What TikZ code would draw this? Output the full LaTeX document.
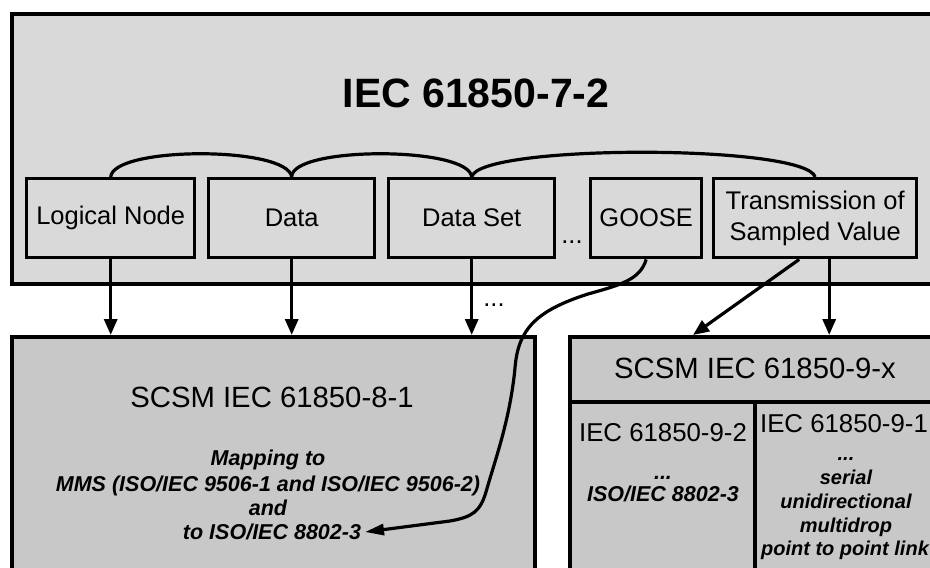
\documentclass[tikz,border=0pt]{standalone}
\usepackage{fontspec}
\setmainfont{Liberation Sans}
\usetikzlibrary{arrows.meta}
\definecolor{topgray}{RGB}{217,217,217}
\definecolor{botgray}{RGB}{200,200,200}
\tikzset{
  frame/.style={draw=black, line width=3.8pt, inner sep=0pt, anchor=north west},
  smallbox/.style={draw=black, line width=3.4pt, fill=topgray, inner sep=0pt, anchor=north west, minimum height=79pt, align=center, font=\fontsize{25.5}{31}\selectfont},
  arc/.style={line width=3.2pt},
  arr/.style={line width=3.2pt, -{Triangle[length=16pt,width=13pt]}},
  lbl/.style={inner sep=0pt, anchor=base},
  big/.style={lbl, font=\fontsize{29.3}{34}\selectfont},
  mid/.style={lbl, font=\fontsize{25.8}{30}\selectfont},
  bi/.style={lbl, font=\fontsize{21.5}{25}\selectfont\bfseries\itshape},
  bis/.style={lbl, font=\fontsize{20}{24}\selectfont\bfseries\itshape},
}
\begin{document}
\begin{tikzpicture}[x=1pt, y=-1pt]
\useasboundingbox (0,0) rectangle (930,568);
\fill[white] (0,0) rectangle (930,568);
\clip (0,0) rectangle (930,568);

% top box
\node[frame, fill=topgray, minimum width=932pt, minimum height=270pt] (top) at (10,12) {};
\node[lbl, font=\fontsize{41}{48}\selectfont\bfseries] (title) at (476,107) {IEC 61850-7-2};

% small boxes
\node[smallbox, minimum width=168pt] (ln)   at (25,177)  {Logical Node};
\node[smallbox, minimum width=166pt] (data) at (207,177) {Data};
\node[smallbox, minimum width=166pt] (ds)   at (387,177) {Data Set};
\node[smallbox, minimum width=111pt] (goose) at (589,177) {GOOSE};
\node[smallbox, minimum width=203pt] (tsv)  at (712,177) {Transmission of\\Sampled Value};
\node[lbl, font=\fontsize{25.5}{31}\selectfont] (dots1) at (572,243) {...};

% arcs
\draw[arc] (ln.north) .. controls (113,146) and (288,146) .. (data.north);
\draw[arc] (data.north) .. controls (291,146) and (469,146) .. (ds.north);
\draw[arc] (ds.north) .. controls (478,144) and (805,144) .. (tsv.north);

% bottom boxes
\node[frame, fill=botgray, minimum width=523pt, minimum height=300pt] (b81) at (10,335) {};
\node[frame, fill=botgray, minimum width=374pt, minimum height=65pt] (b9) at (568,335) {};
\node[frame, fill=botgray, minimum width=185pt, minimum height=240pt] (b92) at (568,400) {};
\node[frame, fill=botgray, minimum width=189pt, minimum height=240pt] (b91) at (753,400) {};

% texts bottom-left
\node[big] (t81) at (272,407) {SCSM IEC 61850-8-1};
\node[bi] (m1) at (268,465) {Mapping to};
\node[bi] (m2) at (268,491) {MMS (ISO/IEC 9506-1 and ISO/IEC 9506-2)};
\node[bi] (m3) at (268,515) {and};
\node[bi] (m4) at (272,539) {to ISO/IEC 8802-3};

% texts right
\node[big] (t9) at (755,378) {SCSM IEC 61850-9-x};
\node[mid] (t92) at (663,441) {IEC 61850-9-2};
\node[bi] (d92) at (663,479) {...};
\node[bi] (iso92) at (663,501) {ISO/IEC 8802-3};
\node[mid] (t91) at (844,432) {IEC 61850-9-1};
\node[bis] (d91) at (846,460) {...};
\node[bis] (s1) at (846,484) {serial};
\node[bis] (s2) at (846,508) {unidirectional};
\node[bis] (s3) at (846,532) {multidrop};
\node[bis] (s4) at (845,555) {point to point link};

% arrows
\draw[arr] (ln.south) -- (ln.south |- b81.north);
\draw[arr] (data.south) -- (data.south |- b81.north);
\draw[arr] (ds.south) -- (ds.south |- b81.north);
\node[lbl, font=\fontsize{25.5}{31}\selectfont] (dots2) at (494,306) {...};
\draw[arr] ([xshift=-16pt]tsv.south) -- ([xshift=125pt]b9.north west);
\draw[arr] ([xshift=14pt]tsv.south) -- ([xshift=14pt]tsv.south |- b9.north);
\draw[line width=3.2pt, -{Triangle[length=19pt,width=11pt]}]
  (goose.south) .. controls (640,280) and (620,285) .. (588,294)
  .. controls (535,311) and (518,330) .. (515,368)
  .. controls (510,420) and (495,460) .. (486,492)
  .. controls (480,512) and (472,517) .. (450,521)
  -- (365,532);
\end{tikzpicture}
\end{document}
